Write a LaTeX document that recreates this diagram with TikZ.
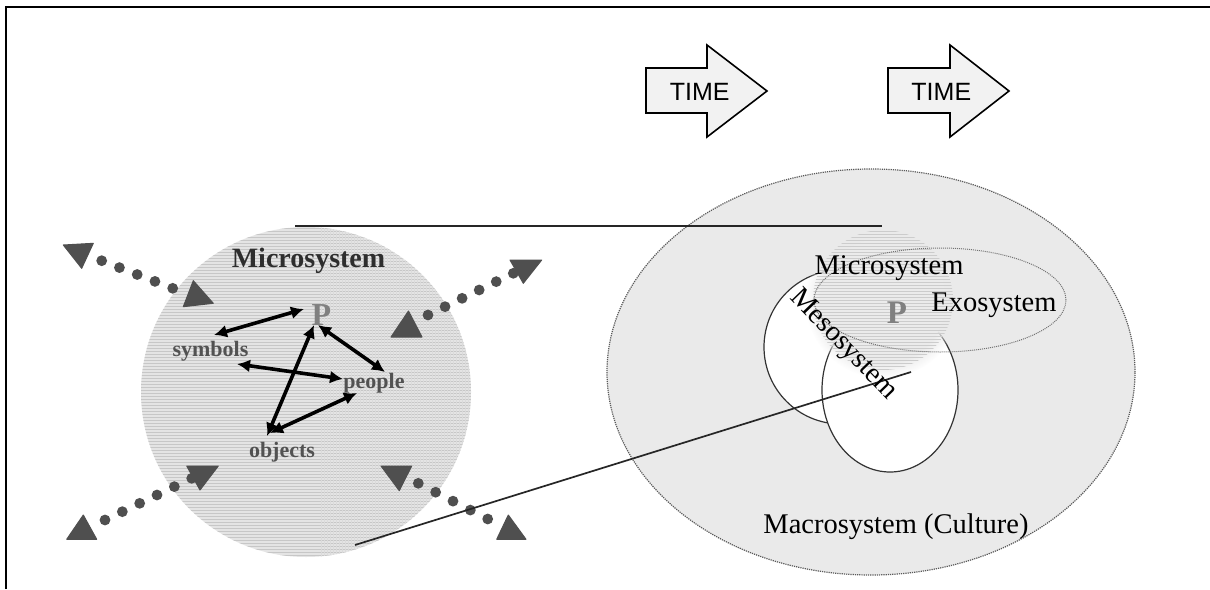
\documentclass[tikz,border=0pt]{standalone}
\usepackage{fontspec}
\setmainfont{Liberation Serif}
\newfontfamily\timefont{Liberation Sans}
\usetikzlibrary{arrows.meta,patterns,fadings,calc}
\definecolor{dotgray}{HTML}{4F4F4F}
\definecolor{bggray}{HTML}{EAEAEA}
\definecolor{discgray}{HTML}{E4E4E4}
\tikzset{
  serif/.style={font=\fontsize{28.5}{30}\selectfont, inner sep=0pt},
  boldhead/.style={font=\bfseries\fontsize{28}{30}\selectfont, text=black!82, inner sep=0pt},
  item/.style={font=\bfseries\fontsize{22}{24}\selectfont, text=black!68, inner sep=0pt},
  person/.style={font=\bfseries\fontsize{32}{34}\selectfont, text=black!50, inner sep=0pt},
  link/.style={line width=3.6pt, {Latex[length=13pt,width=13pt]}-{Latex[length=13pt,width=13pt]}},
  tri/.style={fill=dotgray, draw=dotgray, line width=1pt, line join=round},
  timearrow/.style={draw=black, line width=1.6pt, fill=black!5, line join=miter},
  timetext/.style={font=\timefont\fontsize{25}{27}\selectfont, inner sep=0pt},
  thinline/.style={line width=1.7pt, draw=black!85},
}
\newcommand{\dotrow}[3]{%
  \foreach \k in {0,...,#3}{\fill[dotgray] ($(#1)!\k/#3!(#2)$) circle[radius=5.4pt];}}
\begin{document}
\begin{tikzpicture}[x=1pt,y=-1pt]
\useasboundingbox (0,0) rectangle (1210,589);
\fill[white] (0,0) rectangle (1210,589);

% ---- culture ellipse (right) ----
\fill[bggray] (871,372) ellipse[x radius=264pt, y radius=203pt];
\draw[black!65, line width=1.2pt, densely dotted] (871,372) ellipse[x radius=264pt, y radius=203pt];

% ---- microsystem disc (left) ----
\fill[discgray] (306,392) circle[radius=165pt];
\fill[pattern=horizontal lines, pattern color=black!22] (306,392) circle[radius=165pt];
\begin{scope}
  \clip (306,392) circle[radius=165pt];
  \fill[pattern=vertical lines, pattern color=black!14] (320,200) rectangle (480,580);
\end{scope}

% ---- mesosystem circles ----
\filldraw[fill=white, draw=black!80, line width=1.2pt] (841,347) circle[radius=77pt];
\filldraw[fill=white, draw=black!80, line width=1.2pt] (890,390) ellipse[x radius=68pt, y radius=82pt];

% ---- inner microsystem blob ----
\fill[bggray!80!black!30, path fading=circle with fuzzy edge 20 percent] (883,300) circle[radius=78pt];
\begin{scope}
  \clip (883,300) circle[radius=70pt];
  \fill[pattern=horizontal lines, pattern color=black!20] (800,220) rectangle (960,380);
\end{scope}

% ---- exosystem ellipse ----
\draw[black!55, line width=1pt, densely dotted] (940,300) ellipse[x radius=126pt, y radius=52pt];

% ---- dotted in/out arrows ----
\coordinate (ulA) at (101.7,260.7); \coordinate (ulB) at (172.7,288.3);
\coordinate (urA) at (428,315);     \coordinate (urB) at (513.3,273.3);
\coordinate (llA) at (191.7,478.3); \coordinate (llB) at (105,520);
\coordinate (lrA) at (418.3,483.3); \coordinate (lrB) at (487.7,519);
\dotrow{ulA}{ulB}{4}
\dotrow{urA}{urB}{5}
\dotrow{llA}{llB}{5}
\dotrow{lrA}{lrB}{4}
\filldraw[tri] (63.3,245) -- (93.3,243.3) -- (81.7,268.3) -- cycle;
\filldraw[tri] (183.3,306.7) -- (193.3,280.7) -- (213.3,303.3) -- cycle;
\filldraw[tri] (391,337) -- (408.5,311) -- (422,337) -- cycle;
\filldraw[tri] (510,260) -- (541.7,260) -- (523.3,283.3) -- cycle;
\filldraw[tri] (186.7,466) -- (218.3,466) -- (200,490) -- cycle;
\filldraw[tri] (83.3,515) -- (66.7,539.3) -- (96.7,539.3) -- cycle;
\filldraw[tri] (381,466) -- (411.7,466) -- (399.3,490.7) -- cycle;
\filldraw[tri] (508.3,515) -- (496.7,539.3) -- (526,539.3) -- cycle;

% ---- labels inside the left disc ----
\node[boldhead, anchor=base] (micro) at (308.5,267.5) {Microsystem};
\node[person, anchor=base] (P) at (321.5,325) {P};
\node[item] (symbols) at (210.5,351) {symbols};
\node[item] (people) at (374,383) {people};
\node[item] (objects) at (282,452) {objects};

\coordinate (sP1) at (214,335); \coordinate (sP2) at (304,309);
\coordinate (sp1) at (237,364); \coordinate (sp2) at (343,379);
\coordinate (Pp1) at (318,325); \coordinate (Pp2) at (385,372);
\coordinate (oP1) at (267,436); \coordinate (oP2) at (314,325);
\coordinate (op1) at (270,433); \coordinate (op2) at (357,393);
\draw[link] (sP1) -- (sP2);
\draw[link] (sp1) -- (sp2);
\draw[link] (Pp1) -- (Pp2);
\draw[link] (oP1) -- (oP2);
\draw[link] (op1) -- (op2);

% ---- projection lines ----
\coordinate (topL) at (295,226); \coordinate (topR) at (882,226);
\coordinate (botL) at (355,545); \coordinate (botR) at (911,372);
\draw[thinline] (topL) -- (topR);
\draw[thinline] (botL) -- (botR);

% ---- labels on the right ----
\node[serif, anchor=base] (micro2) at (889,274) {Microsystem};
\node[serif, anchor=base] (exo) at (994,311) {Exosystem};
\node[person, font=\bfseries\fontsize{33}{35}\selectfont, anchor=base] (P2) at (897,323) {P};
\node[serif, rotate=-46] (meso) at (843,345) {Mesosystem};
\node[serif] (macro) at (896,527) {Macrosystem (Culture)};

% ---- time arrows ----
\filldraw[timearrow] (646,68) -- (707,68) -- (707,45) -- (767,91) -- (707,137) -- (707,113) -- (646,113) -- cycle;
\filldraw[timearrow] (888,68) -- (950,68) -- (950,45) -- (1009,91) -- (950,137) -- (950,113) -- (888,113) -- cycle;
\node[timetext] (time1) at (699.7,92) {TIME};
\node[timetext] (time2) at (941.3,92) {TIME};

% ---- frame ----
\draw[line width=2pt] (6,589) -- (6,7) -- (1210,7);
\end{tikzpicture}
\end{document}
